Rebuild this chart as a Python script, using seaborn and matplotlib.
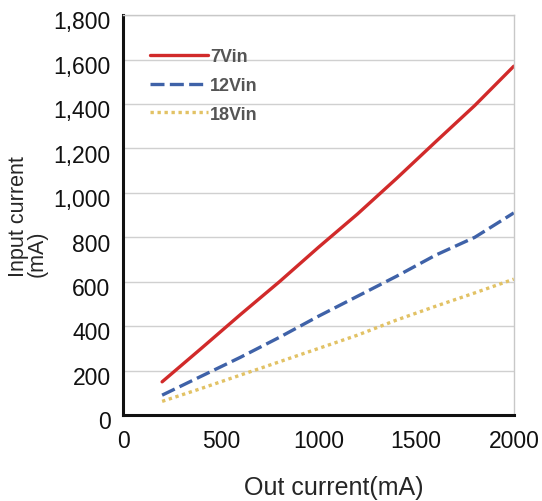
import numpy as np
import pandas as pd
import matplotlib
matplotlib.use('Agg')
import matplotlib.pyplot as plt
import matplotlib.transforms as mtransforms
import seaborn as sns

# ── Data ──────────────────────────────────────────────────────────────────────
out_current = [200, 400, 600, 800, 1000, 1200, 1400, 1600, 1800, 2000]
in_7vin  = [150, 300, 452, 600, 755, 905, 1065, 1230, 1393, 1570]
in_12vin = [90, 175, 260, 350, 445, 535, 625, 720, 800, 910]
in_18vin = [62, 120, 180, 240, 300, 360, 428, 490, 550, 612]
series_names = ['7Vin', '12Vin', '18Vin']
y_ticks = [0, 200, 400, 600, 800, 1000, 1200, 1400, 1600, 1800]
x_ticks = [0, 500, 1000, 1500, 2000]

df = pd.DataFrame({
    'out': out_current * 3,
    'inp': in_7vin + in_12vin + in_18vin,
    'series': np.repeat(series_names, len(out_current)),
})

sns.set_style('white')
plt.rcParams['font.family'] = ['Liberation Sans', 'DejaVu Sans']

palette = {'7Vin': '#d12a2a', '12Vin': '#3f62a8', '18Vin': '#e2c265'}
dashes = {'7Vin': '', '12Vin': (4.2, 1.6), '18Vin': (1, 1.1)}

fig = plt.figure(figsize=(5.42, 5.02), dpi=100)
ax = fig.add_axes([0.227, 0.171, 0.721, 0.797])

sns.lineplot(data=df, x='out', y='inp', hue='series', style='series',
             palette=palette, dashes=dashes, linewidth=2.4, ax=ax)

ax.set_xlim(0, 2000)
ax.set_ylim(0, 1800)
ax.set_xticks(x_ticks)
ax.set_yticks(y_ticks)
ax.set_yticklabels([f'{v:,}' for v in y_ticks])
ax.tick_params(axis='both', labelsize=16.5, length=0, colors='#111111')
ax.tick_params(axis='x', pad=10)
ax.tick_params(axis='y', pad=9)
# y labels sit a little below their gridlines in the reference
shift = mtransforms.ScaledTranslation(0, -3 / 72, fig.dpi_scale_trans)
for lbl in ax.get_yticklabels():
    lbl.set_transform(lbl.get_transform() + shift)

ax.grid(axis='y', color='#d0d0d0', linewidth=1)
ax.set_axisbelow(True)
for s in ['top', 'right']:
    ax.spines[s].set_color('#c8c8c8')
    ax.spines[s].set_linewidth(1)
for s in ['left', 'bottom']:
    ax.spines[s].set_color('#111111')
    ax.spines[s].set_linewidth(2.2)

ax.set_xlabel('Out current(mA)', fontsize=18)
ax.xaxis.set_label_coords(0.54, -0.15)
# both lines of the y label start at the same height (bottom-aligned)
ax.set_ylabel('Input current\n(mA)', fontsize=15.5, linespacing=0.85,
              ha='left', multialignment='left')
ax.yaxis.set_label_coords(-0.194, 0.3475)

leg = ax.legend(loc='upper left', bbox_to_anchor=(0.027, 0.958), frameon=False,
                handlelength=3.2, handletextpad=0.15, labelspacing=0.65,
                prop={'size': 13, 'weight': 'bold'})
for t in leg.get_texts():
    t.set_color('#555555')
for h in leg.get_lines():
    h.set_linewidth(2.4)

fig.savefig('out.png', dpi=100)
